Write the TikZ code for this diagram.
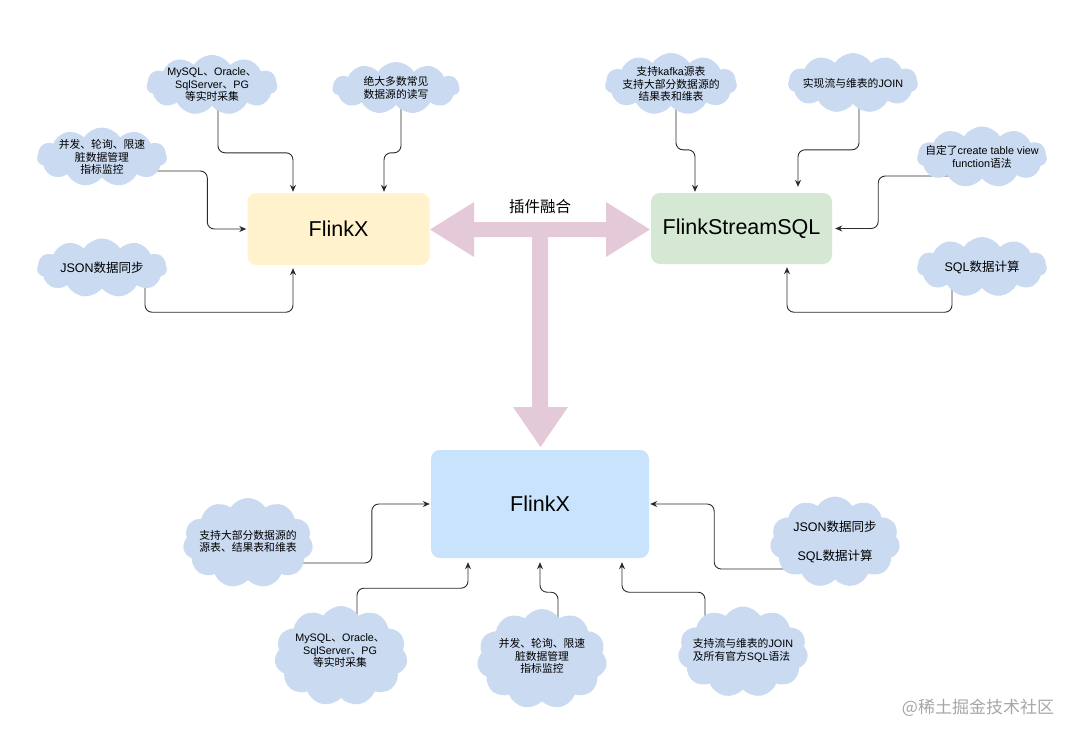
\documentclass[tikz,border=0pt]{standalone}
\usepackage{fontspec}
\setmainfont{Liberation Sans}
\newfontfamily\cjk{Noto Sans CJK SC}
\newcommand\zh[1]{{\cjk #1}}
\usetikzlibrary{shapes.symbols,arrows.meta,backgrounds,calc}
\definecolor{cloudc}{HTML}{C9DAF1}
\definecolor{pinkc}{HTML}{E4CAD9}
\definecolor{yelc}{HTML}{FFF2CC}
\definecolor{grnc}{HTML}{D5E8D4}
\definecolor{bluc}{HTML}{C9E3FC}
\definecolor{linec}{HTML}{2B2B2B}
\tikzset{
  cloudy/.style={cloud, cloud puffs=11, cloud puff arc=115, fill=cloudc, draw=none, inner sep=0pt},
  ctext/.style={font=\fontsize{10.8}{12.5}\selectfont, align=center, inner sep=0pt, text=black},
  btext/.style={font=\fontsize{12.5}{15}\selectfont, align=center, inner sep=0pt, text=black},
  mainbox/.style={rounded corners=9pt, draw=none, font=\fontsize{21.5}{24}\selectfont, inner sep=0pt},
  conn/.style={draw=linec, line width=0.9pt, rounded corners=7pt, -{Stealth[length=7pt,width=6pt]}}
}
\begin{document}
\begin{tikzpicture}[x=1pt,y=-1pt]
\useasboundingbox (0,0) rectangle (1080,739);

% main boxes
\node[mainbox, fill=yelc, minimum width=182pt, minimum height=72pt] (fx1) at (338.5,229) {FlinkX};
\node[mainbox, fill=grnc, minimum width=181pt, minimum height=71pt] (fs) at (741.5,228.5) {FlinkStreamSQL};
\node[mainbox, fill=bluc, minimum width=218pt, minimum height=108pt] (fx2) at (540,504) {FlinkX};

% merge arrow
\fill[pinkc] (430,229.5) -- (474,202) -- (474,222) -- (606,222) -- (606,202) -- (650,229.5)
  -- (606,257) -- (606,237) -- (548,237) -- (548,407) -- (568,407) -- (540.5,447)
  -- (513,407) -- (532,407) -- (532,237) -- (474,237) -- (474,257) -- cycle;
\node[font=\cjk\fontsize{15.5}{18}\selectfont, inner sep=0pt] (merge) at (540,207) {插件融合};

% clouds top-left
\node[cloudy, aspect=2.2, minimum width=131pt, minimum height=60pt] (m1) at (212,85) {};
\node[ctext] (m1t) at (m1.center) {MySQL\zh{、}Oracle\zh{、}\\SqlServer\zh{、}PG\\\zh{等实时采集}};
\node[cloudy, aspect=2.4, minimum width=127pt, minimum height=52pt] (m2) at (396,88) {};
\node[ctext] (m2t) at (m2.center) {\zh{绝大多数常见}\\\zh{数据源的读写}};
\node[cloudy, aspect=2.2, minimum width=130pt, minimum height=59pt] (m3) at (102,157) {};
\node[ctext] (m3t) at (m3.center) {\zh{并发、轮询、限速}\\\zh{脏数据管理}\\\zh{指标监控}};
\node[cloudy, aspect=2.2, minimum width=130pt, minimum height=59pt] (m4) at (102,268) {};
\node[btext] (m4t) at (m4.center) {JSON\zh{数据同步}};

% clouds top-right
\node[cloudy, aspect=2.1, minimum width=132pt, minimum height=62pt] (k1) at (671,84) {};
\node[ctext] (k1t) at (k1.center) {\zh{支持}kafka\zh{源表}\\\zh{支持大部分数据源的}\\\zh{结果表和维表}};
\node[cloudy, aspect=2.2, minimum width=130pt, minimum height=60pt] (k2) at (853,83) {};
\node[ctext] (k2t) at (k2.center) {\zh{实现流与维表的}JOIN};
\node[cloudy, aspect=2.1, minimum width=130pt, minimum height=61pt] (k3) at (982,157) {};
\node[ctext] (k3t) at (k3.center) {\zh{自定了}create table view\\function\zh{语法}};
\node[cloudy, aspect=2.2, minimum width=130pt, minimum height=60pt] (k4) at (982,267) {};
\node[btext] (k4t) at (k4.center) {SQL\zh{数据计算}};

% clouds bottom
\node[cloudy, aspect=1.45, minimum width=130pt, minimum height=90pt] (b1) at (248,543) {};
\node[ctext] (b1t) at (248,541.5) {\zh{支持大部分数据源的}\\\zh{源表、结果表和维表}};
\node[cloudy, aspect=1.33, minimum width=133pt, minimum height=100pt] (b2) at (341,656) {};
\node[ctext] (b2t) at (340,651) {MySQL\zh{、}Oracle\zh{、}\\SqlServer\zh{、}PG\\\zh{等实时采集}};
\node[cloudy, aspect=1.3, minimum width=130pt, minimum height=100pt] (b3) at (542,659) {};
\node[ctext] (b3t) at (542,656) {\zh{并发、轮询、限速}\\\zh{脏数据管理}\\\zh{指标监控}};
\node[cloudy, aspect=1.43, minimum width=130pt, minimum height=91pt] (b4) at (743,652) {};
\node[ctext, align=left] (b4t) at (743,650.5) {\zh{支持流与维表的}JOIN\\\zh{及所有官方}SQL\zh{语法}};
\node[cloudy, aspect=1.43, minimum width=130pt, minimum height=91pt] (b5) at (835,542) {};
\node[btext, font=\fontsize{12.5}{29}\selectfont] (b5t) at (835,541.5) {JSON\zh{数据同步}\\SQL\zh{数据计算}};

% watermark
\node[font=\cjk\fontsize{17}{20}\selectfont, text=black!35, inner sep=0pt] (wm) at (978,708) {@稀土掘金技术社区};

% connectors
\begin{pgfonlayer}{background}
\draw[conn] ([xshift=6pt]m1.center) |- ([xshift=-45.5pt,yshift=40pt]fx1.north) -- ([xshift=-45.5pt,yshift=1pt]fx1.north);
\draw[conn] ([xshift=5pt]m2.center) |- ([xshift=45.5pt,yshift=40pt]fx1.north) -- ([xshift=45.5pt,yshift=1pt]fx1.north);
\draw[conn] ([yshift=-14pt]m3.center) -| ([xshift=-40pt]fx1.west) -- ([xshift=-1pt]fx1.west);
\draw[conn] ([xshift=43pt]m4.center) |- ([xshift=-45.5pt,yshift=-47pt]fx1.south) -- ([xshift=-45.5pt,yshift=-3pt]fx1.south);

\draw[conn] ([xshift=5pt]k1.center) |- ([xshift=-46.5pt,yshift=43pt]fs.north) -- ([xshift=-46.5pt,yshift=1pt]fs.north);
\draw[conn] ([xshift=6pt]k2.center) |- ([xshift=56.5pt,yshift=43pt]fs.north) -- ([xshift=56.5pt,yshift=6pt]fs.north);
\draw[conn] ([yshift=-19pt]k3.center) -| ([xshift=46pt]fs.east) -- ([xshift=3pt]fs.east);
\draw[conn] ([xshift=-30pt]k4.center) |- ([xshift=45.5pt,yshift=-48pt]fs.south) -- ([xshift=45.5pt,yshift=-3pt]fs.south);

\draw[conn] ([yshift=-20pt]b1.center) -| ([xshift=-59pt]fx2.west) -- ([xshift=-1pt]fx2.west);
\draw[conn] ([xshift=16pt]b2.center) |- ([xshift=-72pt,yshift=-30pt]fx2.south) -- ([xshift=-72pt,yshift=-4pt]fx2.south);
\draw[conn] ([xshift=16pt]b3.center) |- ([yshift=-34pt]fx2.south) -- ([yshift=-4pt]fx2.south);
\draw[conn] ([xshift=-38pt]b4.center) |- ([xshift=82pt,yshift=-34pt]fx2.south) -- ([xshift=82pt,yshift=-4pt]fx2.south);
\draw[conn] ([yshift=-27pt]b5.center) -| ([xshift=65pt]fx2.east) -- ([xshift=1pt]fx2.east);
\end{pgfonlayer}
\end{tikzpicture}
\end{document}
